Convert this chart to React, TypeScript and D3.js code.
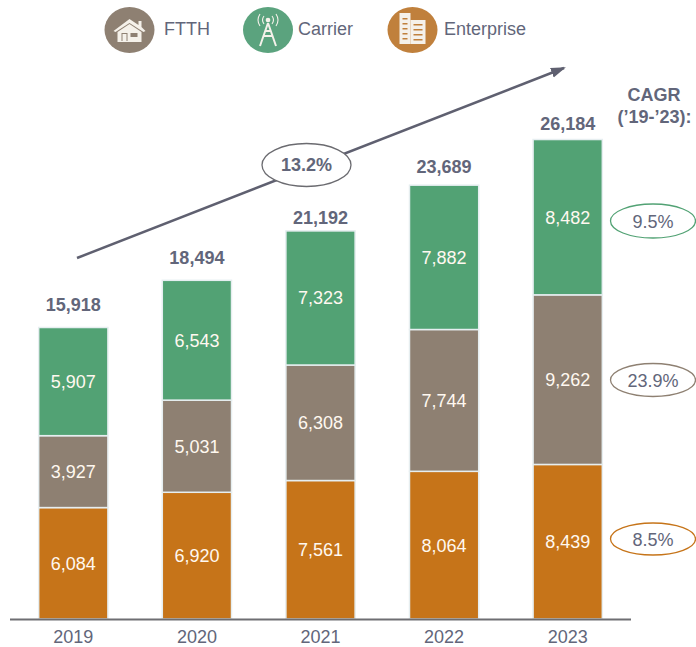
import React from "react";
import * as d3 from "d3";

const years = ["2019", "2020", "2021", "2022", "2023"];
const enterprise = [6084, 6920, 7561, 8064, 8439];
const ftth = [3927, 5031, 6308, 7744, 9262];
const carrier = [5907, 6543, 7323, 7882, 8482];
const totals = [15918, 18494, 21192, 23689, 26184];
const seriesKeys = ["enterprise", "ftth", "carrier"];
const seriesColors = ["#C67419", "#8E8072", "#52A274"];
const legendNames = ["FTTH", "Carrier", "Enterprise"];
const legendColors = ["#8E8072", "#5BA37E", "#C0803C"];
const cagrValues = ["9.5%", "23.9%", "8.5%"];
const cagrColors = ["#52A274", "#8E8072", "#C67419"];
const totalCagr = "13.2%";
const FONT = "'Liberation Sans', Arial, sans-serif";
const TEXT = "#62667A";

const rows = years.map((y, i) => ({ year: y, enterprise: enterprise[i], ftth: ftth[i], carrier: carrier[i] }));
const stacked = d3.stack<any>().keys(seriesKeys)(rows);
const x = d3.scaleBand().domain(years).range([11.5, 629.5]).paddingInner(0.44).paddingOuter(0.22);
const y = d3.scaleLinear().domain([0, 26184]).range([619, 139.5]);
const fmt = d3.format(",");

function Icon({ kind }: { kind: string }) {
  const c = "#F5F1EA";
  if (kind === "FTTH")
    return (
      <g fill={c}>
        <path d="M-16 1 L0 -11 L9 -5 L9 -9 L12 -9 L12 -3 L16 1 L14 2 L0 -7 L-14 2 Z" />
        <path d="M-12 2 L0 -6 L12 2 L12 12 L-12 12 Z" />
        <rect x={-8} y={3} width={6} height={8} fill="#8E8072" />
        <rect x={-7} y={4} width={4} height={7} fill={c} />
        <rect x={1} y={3} width={7} height={4} fill="#8E8072" />
      </g>
    );
  if (kind === "Carrier")
    return (
      <g fill="none" stroke={c} strokeWidth={1.5}>
        <circle cx={0} cy={-10} r={1.6} fill={c} />
        <path d="M-4 -14 Q-7 -10 -4 -6 M4 -14 Q7 -10 4 -6 M-8 -16 Q-12 -10 -8 -4 M8 -16 Q12 -10 8 -4" strokeWidth={1.1} />
        <path d="M0 -7 L-8 16 M0 -7 L8 16 M-5 6 L5 6 M-3 1 L3 1" strokeWidth={2} />
      </g>
    );
  return (
    <g fill={c}>
      <rect x={-13} y={-17} width={11} height={31} />
      <rect x={-2} y={-10} width={15} height={24} />
      <g fill="#C0803C">
        {[-12, -7, -2, 3, 8].map((v) => (
          <rect key={v} x={-10} y={v} width={5} height={1.5} />
        ))}
        {[-6, -1, 4, 9].map((v) => (
          <rect key={v} x={1} y={v} width={9} height={1.5} />
        ))}
      </g>
    </g>
  );
}

const legendPos = [
  { cx: 129.5, tx: 164 },
  { cx: 268, tx: 298 },
  { cx: 412.5, tx: 444 },
];
const cagrPos = [
  { cy: 221, ry: 17 },
  { cy: 380, ry: 16.5 },
  { cy: 539, ry: 16 },
];
const totalGaps = [16, 16, 7, 12, 10];

export default function App() {
  return (
    <svg
      width={696}
      height={647}
      style={{ position: "absolute", left: 0, top: 0, background: "#fff", fontFamily: FONT }}
    >
      <defs>
        <marker id="arrow" markerWidth={16} markerHeight={12} refX={13} refY={5} orient="auto" markerUnits="userSpaceOnUse">
          <path d="M0 0 L15 5 L0 10 Z" fill="#5F6070" />
        </marker>
      </defs>

      {legendNames.map((n, i) => (
        <g key={n}>
          <ellipse cx={legendPos[i].cx} cy={30} rx={25} ry={23} fill={legendColors[i]} />
          <g transform={`translate(${legendPos[i].cx},30)`}>
            <Icon kind={n} />
          </g>
          <text x={legendPos[i].tx} y={35} fontSize={18} fill={TEXT}>
            {n}
          </text>
        </g>
      ))}

      <line x1={77} y1={258} x2={564} y2={68} stroke="#5F6070" strokeWidth={2.5} markerEnd="url(#arrow)" />
      <ellipse cx={306.5} cy={165} rx={44.5} ry={21.5} fill="#fff" stroke="#6B6B70" strokeWidth={1.3} />
      <text x={306.5} y={171} fontSize={18} fontWeight={700} fill={TEXT} textAnchor="middle">
        {totalCagr}
      </text>

      {stacked.map((s, si) => (
        <g key={s.key}>
          {s.map((d: any, i: number) => {
            const y0 = y(d[0]);
            const y1 = y(d[1]);
            const bx = x(years[i]) as number;
            const bw = x.bandwidth();
            return (
              <g key={i}>
                <rect x={bx} y={y1} width={bw} height={y0 - y1} fill={seriesColors[si]} stroke="#E6EEF0" strokeWidth={1.5} />
                <text x={bx + bw / 2} y={(y0 + y1) / 2 + 6.5} fontSize={18} fill="#FFF8F0" textAnchor="middle">
                  {fmt(d[1] - d[0])}
                </text>
              </g>
            );
          })}
        </g>
      ))}

      {years.map((yr, i) => (
        <g key={yr}>
          <text
            x={(x(yr) as number) + x.bandwidth() / 2}
            y={y(totals[i]) - totalGaps[i]}
            fontSize={18}
            fontWeight={700}
            fill={TEXT}
            textAnchor="middle"
          >
            {fmt(totals[i])}
          </text>
          <text x={(x(yr) as number) + x.bandwidth() / 2} y={643} fontSize={18} fill={TEXT} textAnchor="middle">
            {yr}
          </text>
        </g>
      ))}

      <line x1={10} x2={631} y1={619.5} y2={619.5} stroke="#6E6E72" strokeWidth={2} />

      <text x={654} y={101} fontSize={18} fontWeight={700} fill={TEXT} textAnchor="middle">
        CAGR
      </text>
      <text x={654.5} y={123} fontSize={18} fontWeight={700} fill={TEXT} textAnchor="middle">
        (’19-’23):
      </text>

      {cagrValues.map((v, i) => (
        <g key={v}>
          <ellipse cx={653} cy={cagrPos[i].cy} rx={42.5} ry={cagrPos[i].ry} fill="#fff" stroke={cagrColors[i]} strokeWidth={1.3} />
          <text x={653} y={cagrPos[i].cy + 6.5} fontSize={18} fill={TEXT} textAnchor="middle">
            {v}
          </text>
        </g>
      ))}
    </svg>
  );
}
